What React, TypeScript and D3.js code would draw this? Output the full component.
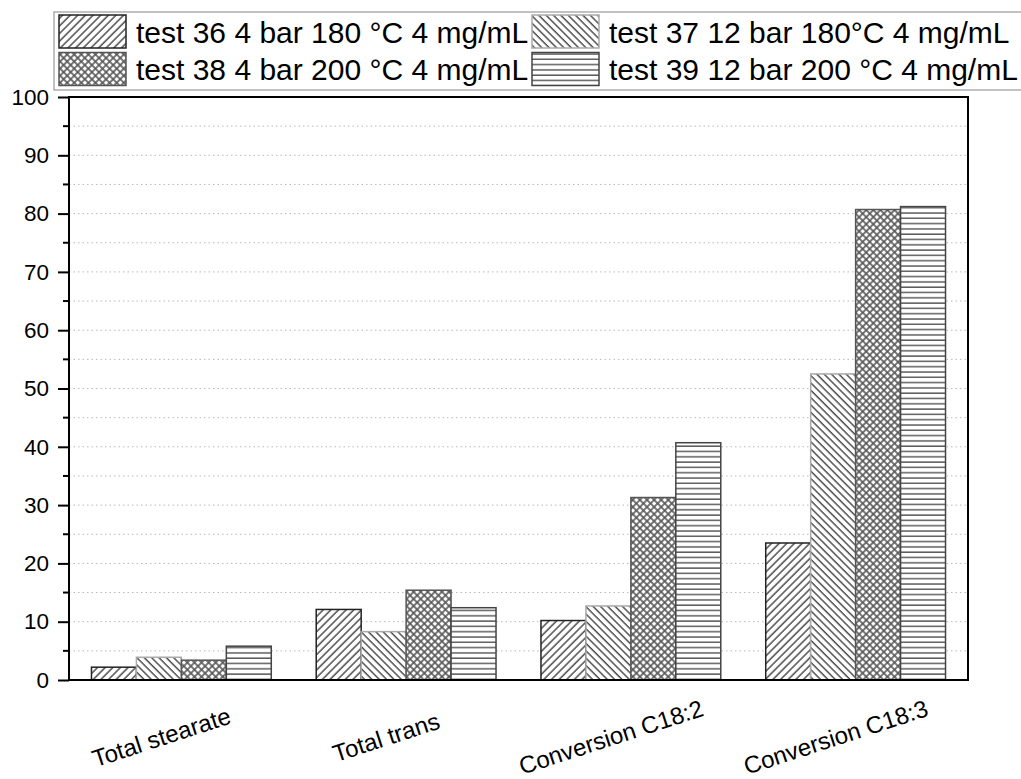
import React, { useEffect, useRef } from "react"
import * as d3 from "d3"

const categories = ["Total stearate", "Total trans", "Conversion C18:2", "Conversion C18:3"]
const seriesNames = [
    "test 36 4 bar 180 °C 4 mg/mL",
    "test 37 12 bar 180°C 4 mg/mL",
    "test 38 4 bar 200 °C 4 mg/mL",
    "test 39 12 bar 200 °C 4 mg/mL",
]
const test36 = [2.2, 12.1, 10.2, 23.5]
const test37 = [3.9, 8.3, 12.7, 52.5]
const test38 = [3.4, 15.4, 31.3, 80.7]
const test39 = [5.8, 12.4, 40.7, 81.2]
const yTicks = [0, 10, 20, 30, 40, 50, 60, 70, 80, 90, 100]

const FONT = "'Liberation Sans', Arial, sans-serif"
const WIDTH = 1021
const HEIGHT = 779

export default function App() {
    const svgRef = useRef<SVGSVGElement>(null)

    useEffect(() => {
        if (!svgRef.current) return
        const svg = d3.select(svgRef.current)
        svg.selectAll("*").remove()

        const left = 69, right = 968, top = 97, bottom = 680
        const values = [test36, test37, test38, test39]

        const x = d3.scaleBand<string>()
            .domain(categories)
            .range([left, right])
            .paddingInner(0.2)
            .paddingOuter(0.1)
        const xs = d3.scaleBand<string>()
            .domain(seriesNames)
            .range([0, x.bandwidth()])
        const y = d3.scaleLinear().domain([0, 100]).range([bottom, top])

        // hatch patterns, one per series
        const defs = svg.append("defs")
        const mk = (id: string, w: number, h: number, rot: number) =>
            defs.append("pattern")
                .attr("id", id)
                .attr("patternUnits", "userSpaceOnUse")
                .attr("width", w)
                .attr("height", h)
                .attr("patternTransform", `rotate(${rot})`)

        const p0 = mk("p0", 5.4, 10, 45)
        p0.append("rect").attr("width", 5.4).attr("height", 10).attr("fill", "#fff")
        p0.append("line").attr("x1", 1).attr("x2", 1).attr("y1", 0).attr("y2", 10)
            .attr("stroke", "#333").attr("stroke-width", 1.3)

        const p1 = mk("p1", 5.2, 10, -45)
        p1.append("rect").attr("width", 5.2).attr("height", 10).attr("fill", "#fff")
        p1.append("line").attr("x1", 1).attr("x2", 1).attr("y1", 0).attr("y2", 10)
            .attr("stroke", "#444").attr("stroke-width", 1.4)

        const p2 = mk("p2", 5, 5, 45)
        p2.append("rect").attr("width", 5).attr("height", 5).attr("fill", "#fff")
        p2.append("line").attr("x1", 1).attr("x2", 1).attr("y1", 0).attr("y2", 5)
            .attr("stroke", "#555").attr("stroke-width", 1.6)
        p2.append("line").attr("x1", 0).attr("x2", 5).attr("y1", 1).attr("y2", 1)
            .attr("stroke", "#555").attr("stroke-width", 1.6)

        const p3 = mk("p3", 10, 5.3, 0)
        p3.append("rect").attr("width", 10).attr("height", 5.3).attr("fill", "#fff")
        p3.append("line").attr("x1", 0).attr("x2", 10).attr("y1", 1).attr("y2", 1)
            .attr("stroke", "#444").attr("stroke-width", 1.3)

        const borders = ["#222", "#aaa", "#555", "#444"]

        // dotted grid at every 5
        const gridVals = d3.range(5, 100, 5)
        svg.append("g")
            .selectAll("line")
            .data(gridVals)
            .join("line")
            .attr("x1", left).attr("x2", right)
            .attr("y1", d => y(d)).attr("y2", d => y(d))
            .attr("stroke", "#b8b8b8")
            .attr("stroke-width", 1)
            .attr("stroke-dasharray", "1.5,3")

        // bars
        values.forEach((vals, si) => {
            svg.append("g")
                .selectAll("rect")
                .data(vals)
                .join("rect")
                .attr("x", (d, i) => (x(categories[i]) ?? 0) + (xs(seriesNames[si]) ?? 0))
                .attr("y", d => y(d))
                .attr("width", xs.bandwidth())
                .attr("height", d => y(0) - y(d))
                .attr("fill", `url(#p${si})`)
                .attr("stroke", borders[si])
                .attr("stroke-width", 1.5)
        })

        // frame
        svg.append("rect")
            .attr("x", left).attr("y", top)
            .attr("width", right - left).attr("height", bottom - top)
            .attr("fill", "none").attr("stroke", "#000").attr("stroke-width", 2)

        // y axis with minor ticks
        const yAxis = d3.axisLeft(y)
            .tickValues(yTicks)
            .tickSize(11)
            .tickPadding(9)
            .tickFormat(d3.format("d"))
        const gy = svg.append("g").attr("transform", `translate(${left},0)`).call(yAxis)
        gy.select(".domain").remove()
        gy.selectAll(".tick line").attr("stroke", "#000").attr("stroke-width", 2)
        gy.selectAll(".tick text")
            .attr("font-family", FONT).attr("font-size", 22.5).attr("fill", "#000")
        svg.append("g")
            .selectAll("line")
            .data(d3.range(5, 100, 10))
            .join("line")
            .attr("x1", left - 6).attr("x2", left)
            .attr("y1", d => y(d)).attr("y2", d => y(d))
            .attr("stroke", "#000").attr("stroke-width", 2)

        // x labels, rotated
        svg.append("g")
            .selectAll("text")
            .data(categories)
            .join("text")
            .attr("transform", d => `translate(${(x(d) ?? 0) + x.bandwidth() / 2 - 20},737) rotate(-18)`)
            .attr("text-anchor", "middle")
            .attr("dominant-baseline", "central")
            .attr("font-family", FONT)
            .attr("font-size", 24)
            .attr("fill", "#000")
            .text(d => d)

        // legend
        const lg = svg.append("g")
        lg.append("rect")
            .attr("x", 54).attr("y", 12)
            .attr("width", 980).attr("height", 78)
            .attr("fill", "#fff").attr("stroke", "#999").attr("stroke-width", 1.2)
        const cols = [59, 532]
        const rows = [15, 52.5]
        seriesNames.forEach((name, i) => {
            const cx = cols[i % 2]
            const ry = rows[Math.floor(i / 2)]
            lg.append("rect")
                .attr("x", cx).attr("y", ry)
                .attr("width", 67).attr("height", 33)
                .attr("fill", `url(#p${i})`)
                .attr("stroke", borders[i]).attr("stroke-width", 1.5)
            lg.append("text")
                .attr("x", cx + 77).attr("y", ry + 17)
                .attr("dominant-baseline", "central")
                .attr("font-family", FONT)
                .attr("font-size", 30)
                .attr("fill", "#000")
                .text(name)
        })
    }, [])

    return (
        <svg
            ref={svgRef}
            width={WIDTH}
            height={HEIGHT}
            style={{ position: "absolute", left: 0, top: 0, background: "#fff" }}
        />
    )
}
